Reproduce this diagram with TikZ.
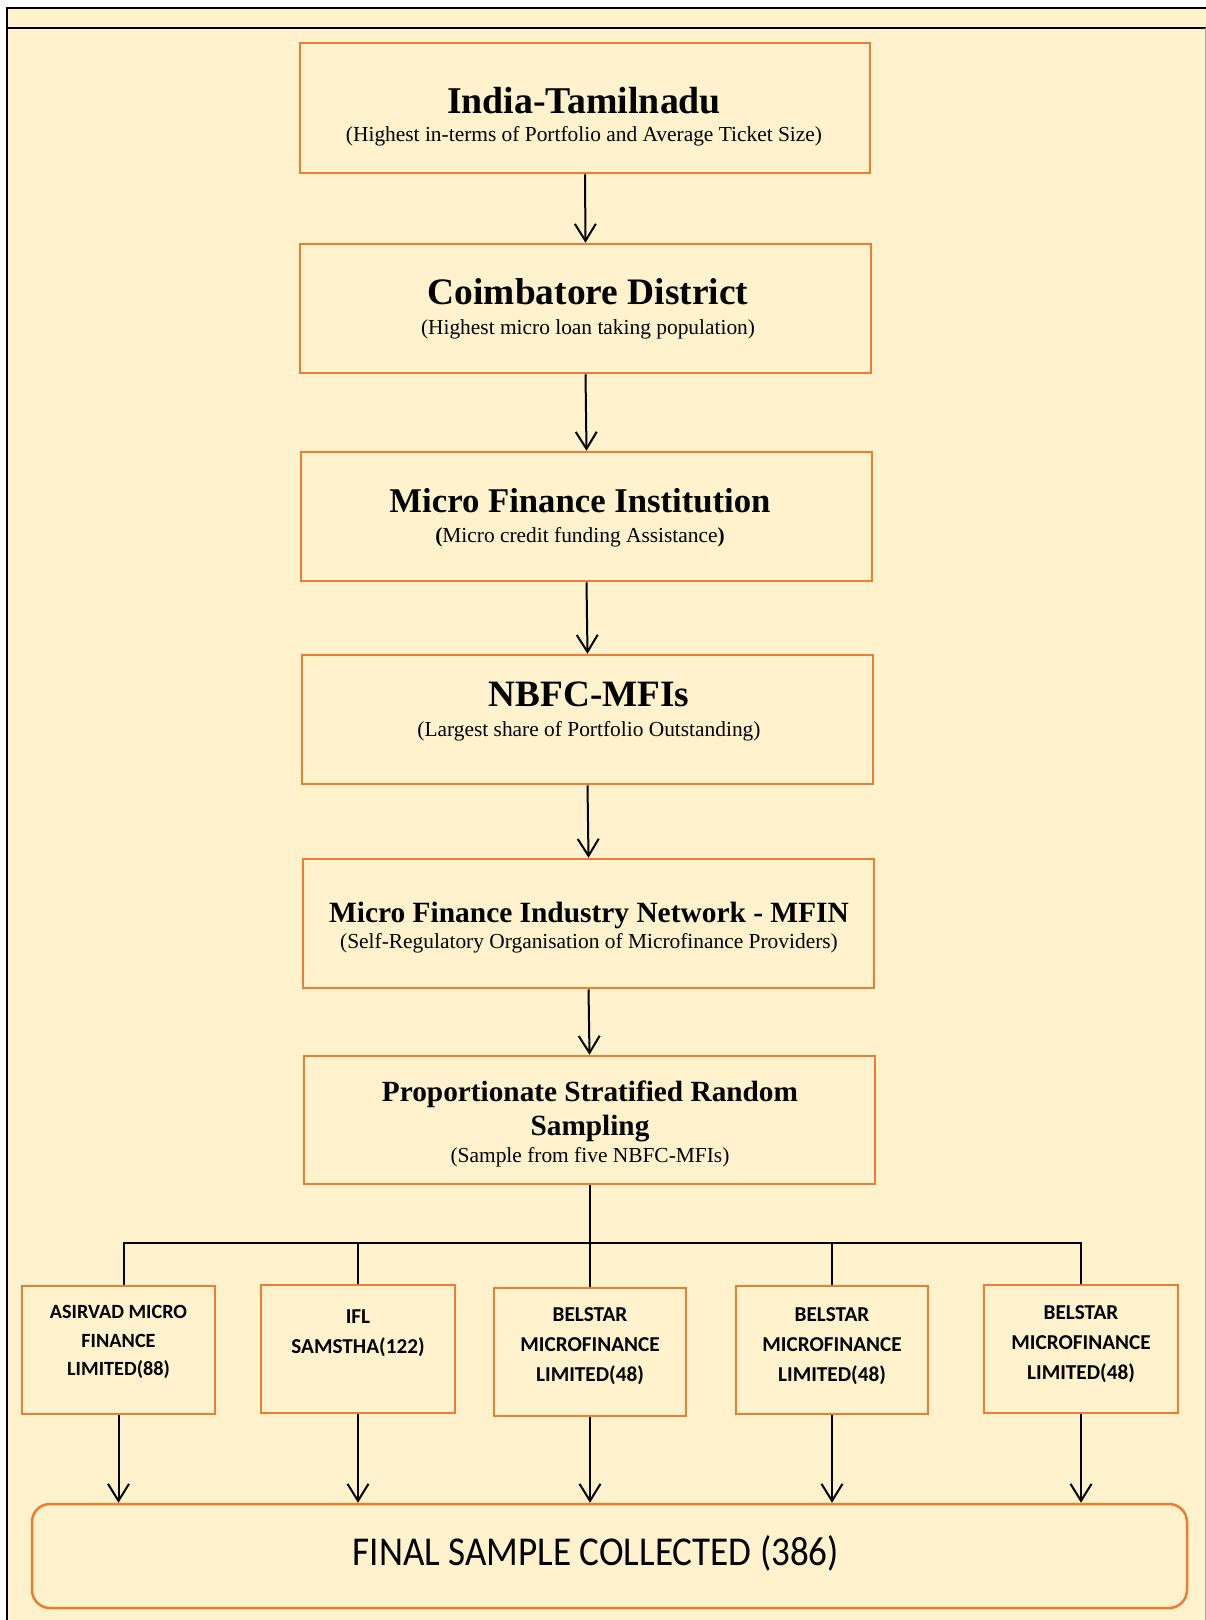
\documentclass[tikz,border=0pt]{standalone}
\usepackage{fontspec}
\setmainfont{Liberation Serif}
\newfontfamily\calib{Carlito}
\usetikzlibrary{arrows.meta}
\definecolor{cream}{HTML}{FFF2CC}
\definecolor{orng}{HTML}{ED7D31}
\tikzset{
  mainbox/.style={draw=orng, line width=2.5pt, fill=cream, inner sep=0pt},
  ttl/.style={anchor=base, font=\bfseries},
  sub/.style={anchor=base, font=\fontsize{21.4}{25}\selectfont},
  bot/.style={align=center, font=\calib\bfseries\fontsize{21.2}{30}\selectfont, inner sep=0pt},
  arr/.style={line width=2pt, -{Straight Barb[length=17pt,width=21pt]}},
  lnk/.style={line width=2pt}
}
\begin{document}
\begin{tikzpicture}[x=1pt,y=-1pt]
\useasboundingbox (0,0) rectangle (1206,1620);
\fill[white] (0,0) rectangle (1206,1620);
\fill[cream] (7,8) rectangle (1206,1620);
\draw[line width=2.5pt] (7,1620) -- (7,8) -- (1206,8);
\draw[line width=2pt] (7,28) -- (1206,28);
\draw[black!35, line width=0.8pt] (1205,28) -- (1205,1620);

% main chain boxes
\node[mainbox, minimum width=570pt, minimum height=130pt] (b1) at (585,108) {};
\node[mainbox, minimum width=571pt, minimum height=129pt] (b2) at (585.5,308.5) {};
\node[mainbox, minimum width=571pt, minimum height=129pt] (b3) at (586.5,516.5) {};
\node[mainbox, minimum width=571pt, minimum height=129pt] (b4) at (587.5,719.5) {};
\node[mainbox, minimum width=571pt, minimum height=129pt] (b5) at (588.5,923.5) {};
\node[mainbox, minimum width=571pt, minimum height=128pt] (b6) at (589.5,1120) {};

\node[ttl, font=\bfseries\fontsize{37.8}{40}\selectfont] (t1) at (584,113) {India-Tamilnadu};
\node[sub] (s1) at (584,141) {(Highest in-terms of Portfolio and Average Ticket Size)};
\node[ttl, font=\bfseries\fontsize{37.4}{40}\selectfont] (t2) at (588,304) {Coimbatore District};
\node[sub] (s2) at (588,334) {(Highest micro loan taking population)};
\node[ttl, font=\bfseries\fontsize{34.7}{38}\selectfont] (t3) at (580,512) {Micro Finance Institution};
\node[sub] (s3) at (580,542) {\textbf{(}Micro credit funding Assistance\textbf{)}};
\node[ttl, font=\bfseries\fontsize{37.2}{40}\selectfont] (t4) at (589,706) {NBFC-MFIs};
\node[sub] (s4) at (589,736) {(Largest share of Portfolio Outstanding)};
\node[ttl, font=\bfseries\fontsize{29.4}{32}\selectfont] (t5) at (589,922) {Micro Finance Industry Network - MFIN};
\node[sub] (s5) at (589,948) {(Self-Regulatory Organisation of Microfinance Providers)};
\node[ttl, font=\bfseries\fontsize{29.3}{32}\selectfont] (t6a) at (590,1101) {Proportionate Stratified Random};
\node[ttl, font=\bfseries\fontsize{29.3}{32}\selectfont] (t6b) at (590,1135) {Sampling};
\node[sub] (s6) at (590,1162) {(Sample from five NBFC-MFIs)};

% bottom boxes
\node[mainbox, minimum width=193pt, minimum height=128pt] (c1) at (118.5,1350) {};
\node[mainbox, minimum width=194pt, minimum height=128pt] (c2) at (358,1349) {};
\node[mainbox, minimum width=192pt, minimum height=128pt] (c3) at (590,1352) {};
\node[mainbox, minimum width=192pt, minimum height=128pt] (c4) at (832,1350) {};
\node[mainbox, minimum width=194pt, minimum height=128pt] (c5) at (1081,1349) {};

\node[bot, font=\calib\bfseries\fontsize{20.2}{28.5}\selectfont] (c1t) at (118.5,1342) {ASIRVAD MICRO\\FINANCE\\LIMITED(88)};
\node[bot] (c2t) at (358,1333.5) {IFL\\SAMSTHA(122)};
\node[bot] (c3t) at (590,1346) {BELSTAR\\MICROFINANCE\\LIMITED(48)};
\node[bot] (c4t) at (832,1346) {BELSTAR\\MICROFINANCE\\LIMITED(48)};
\node[bot] (c5t) at (1081,1344) {BELSTAR\\MICROFINANCE\\LIMITED(48)};

% final box
\node[draw=orng, line width=2.5pt, fill=cream, rounded corners=18pt,
      minimum width=1155pt, minimum height=104pt] (fin) at (609.5,1556) {};
\node[font=\calib\fontsize{41}{44}\selectfont] (fint) at (596,1553)
  {\scalebox{0.905}[1]{FINAL SAMPLE COLLECTED (386)}};

% connectors
\draw[arr] (b1.south) -- (b2.north);
\draw[arr] (b2.south) -- (b3.north);
\draw[arr] (b3.south) -- (b4.north);
\draw[arr] (b4.south) -- (b5.north);
\draw[arr] (b5.south) -- (b6.north);

\coordinate (j) at (589.5,1243);
\draw[lnk] (b6.south) -- (j);
\draw[lnk] ([xshift=5pt]c1.north) |- (j) -| (c5.north);
\draw[lnk] (c2.north) -- (c2.north |- j);
\draw[lnk] (c3.north) -- (c3.north |- j);
\draw[lnk] (c4.north) -- (c4.north |- j);

\foreach \c in {c1,c2,c3,c4,c5}
  \draw[arr] (\c.south) -- (\c.south |- fin.north);
\end{tikzpicture}
\end{document}
